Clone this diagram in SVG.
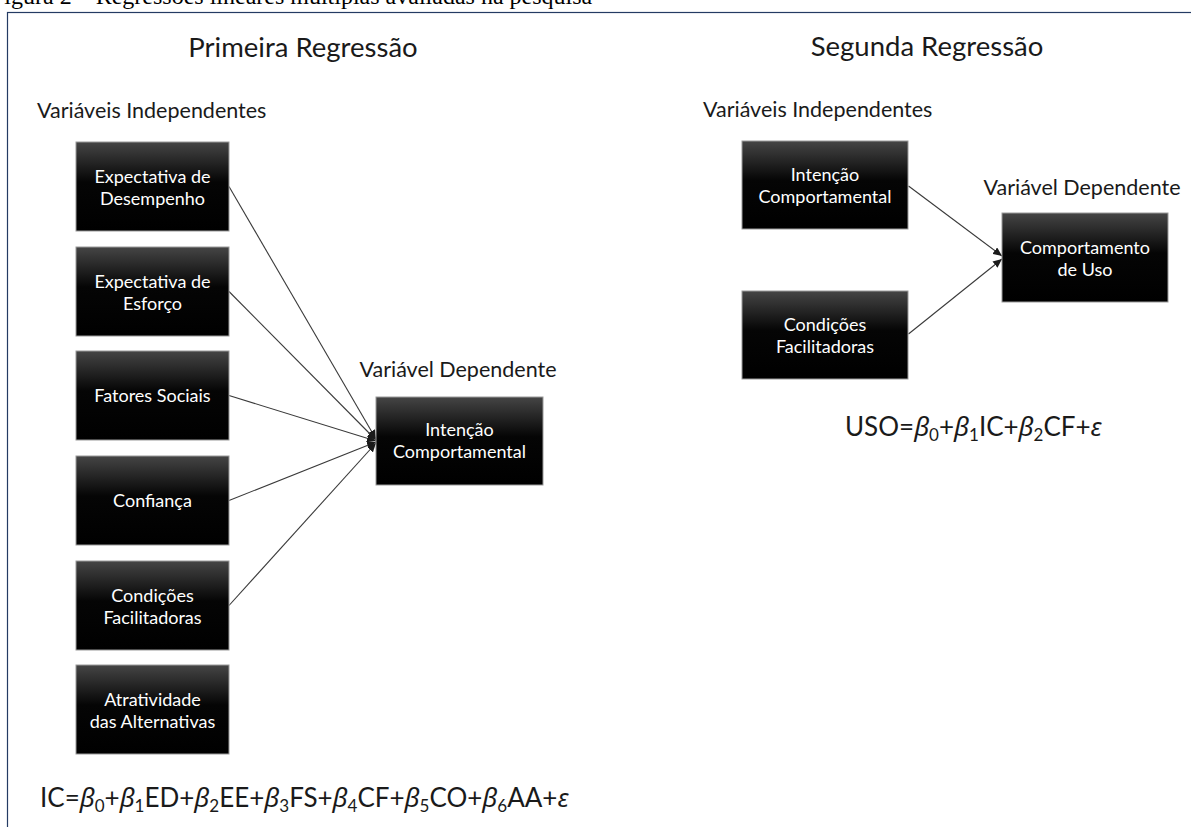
<svg xmlns="http://www.w3.org/2000/svg" width="1191" height="827" viewBox="0 0 1191 827">
<defs>
<linearGradient id="g" x1="0" y1="0" x2="0" y2="1">
<stop offset="0" stop-color="#454545"/>
<stop offset="0.45" stop-color="#050505"/>
<stop offset="1" stop-color="#000"/>
</linearGradient>
<marker id="ah" markerUnits="userSpaceOnUse" markerWidth="10" markerHeight="8" refX="9" refY="4" orient="auto">
<path d="M0,0 L9,4 L0,8 z" fill="#1a1a1a"/>
</marker>
<style>
.cap{font-family:"Liberation Serif",serif;font-size:24px;fill:#000}
.ttl{font-family:Lato,"Liberation Sans",sans-serif;font-size:27.5px;fill:#1a1a1a;text-anchor:middle}
.lbl{font-family:Lato,"Liberation Sans",sans-serif;font-size:21.5px;fill:#1a1a1a}
.box{fill:url(#g);stroke:#9a9a9a;stroke-width:1}
.bt{font-family:Lato,"Liberation Sans",sans-serif;font-size:18px;fill:#fff;text-anchor:middle}
.fm{font-family:Lato,"Liberation Sans",sans-serif;font-size:26px;fill:#1a1a1a}
.gk{font-family:"Noto Sans","DejaVu Sans",sans-serif;font-style:italic}
.sb{font-size:17px}
.cn{stroke:#3a3a3a;stroke-width:1.1;fill:none;marker-end:url(#ah)}
</style>
</defs>
<rect width="1191" height="827" fill="#fff"/>
<text class="cap" x="-9" y="4">Figura 2 – Regressões lineares múltiplas avaliadas na pesquisa</text>
<rect x="7.5" y="12.5" width="1200" height="900" fill="none" stroke="#243b63" stroke-width="1.2"/>

<text class="ttl" x="303" y="57">Primeira Regressão</text>
<text class="ttl" x="927" y="56">Segunda Regressão</text>
<text class="lbl" x="37" y="118">Variáveis Independentes</text>
<text class="lbl" x="703" y="117">Variáveis Independentes</text>
<text class="lbl" x="458" y="377" text-anchor="middle">Variável Dependente</text>
<text class="lbl" x="1082" y="195" text-anchor="middle">Variável Dependente</text>

<g id="connectors">
<line class="cn" x1="229" y1="186.5" x2="376" y2="439"/>
<line class="cn" x1="229" y1="291.5" x2="376" y2="440"/>
<line class="cn" x1="229" y1="395.5" x2="376" y2="441"/>
<line class="cn" x1="229" y1="500.5" x2="376" y2="442"/>
<line class="cn" x1="229" y1="605.5" x2="376" y2="443"/>
<line class="cn" x1="908.5" y1="186" x2="1002" y2="256"/>
<line class="cn" x1="908.5" y1="334" x2="1002" y2="259"/>
</g>

<g id="n-ed"><rect class="box" x="76" y="142" width="153" height="89"/>
<text class="bt" x="152.5" y="182.5">Expectativa de</text><text class="bt" x="152.5" y="204.5">Desempenho</text></g>
<g id="n-ee"><rect class="box" x="76" y="247" width="153" height="89"/>
<text class="bt" x="152.5" y="287.5">Expectativa de</text><text class="bt" x="152.5" y="309.5">Esforço</text></g>
<g id="n-fs"><rect class="box" x="76" y="351" width="153" height="89"/>
<text class="bt" x="152.5" y="401.5">Fatores Sociais</text></g>
<g id="n-co"><rect class="box" x="76" y="456" width="153" height="89"/>
<text class="bt" x="152.5" y="506.5">Confiança</text></g>
<g id="n-cf"><rect class="box" x="76" y="561" width="153" height="89"/>
<text class="bt" x="152.5" y="601.5">Condições</text><text class="bt" x="152.5" y="623.5">Facilitadoras</text></g>
<g id="n-aa"><rect class="box" x="76" y="665" width="153" height="89"/>
<text class="bt" x="152.5" y="705.5">Atratividade</text><text class="bt" x="152.5" y="727.5">das Alternativas</text></g>

<g id="n-ic"><rect class="box" x="376" y="397" width="167" height="88"/>
<text class="bt" x="459.5" y="436">Intenção</text><text class="bt" x="459.5" y="458">Comportamental</text></g>

<g id="n-ic2"><rect class="box" x="742" y="141" width="166" height="88"/>
<text class="bt" x="825" y="181">Intenção</text><text class="bt" x="825" y="203">Comportamental</text></g>
<g id="n-cf2"><rect class="box" x="742" y="291" width="166" height="88"/>
<text class="bt" x="825" y="331">Condições</text><text class="bt" x="825" y="353">Facilitadoras</text></g>
<g id="n-uso"><rect class="box" x="1002" y="213" width="166" height="89"/>
<text class="bt" x="1085" y="253.5">Comportamento</text><text class="bt" x="1085" y="275.5">de Uso</text></g>

<text class="fm" x="40" y="807">IC=<tspan class="gk">β</tspan><tspan class="sb" dy="5">0</tspan><tspan dy="-5">+</tspan><tspan class="gk">β</tspan><tspan class="sb" dy="5">1</tspan><tspan dy="-5">ED+</tspan><tspan class="gk">β</tspan><tspan class="sb" dy="5">2</tspan><tspan dy="-5">EE+</tspan><tspan class="gk">β</tspan><tspan class="sb" dy="5">3</tspan><tspan dy="-5">FS+</tspan><tspan class="gk">β</tspan><tspan class="sb" dy="5">4</tspan><tspan dy="-5">CF+</tspan><tspan class="gk">β</tspan><tspan class="sb" dy="5">5</tspan><tspan dy="-5">CO+</tspan><tspan class="gk">β</tspan><tspan class="sb" dy="5">6</tspan><tspan dy="-5">AA+</tspan><tspan class="gk">ε</tspan></text>

<text class="fm" x="845" y="436">USO=<tspan class="gk">β</tspan><tspan class="sb" dy="5">0</tspan><tspan dy="-5">+</tspan><tspan class="gk">β</tspan><tspan class="sb" dy="5">1</tspan><tspan dy="-5">IC+</tspan><tspan class="gk">β</tspan><tspan class="sb" dy="5">2</tspan><tspan dy="-5">CF+</tspan><tspan class="gk">ε</tspan></text>
</svg>
